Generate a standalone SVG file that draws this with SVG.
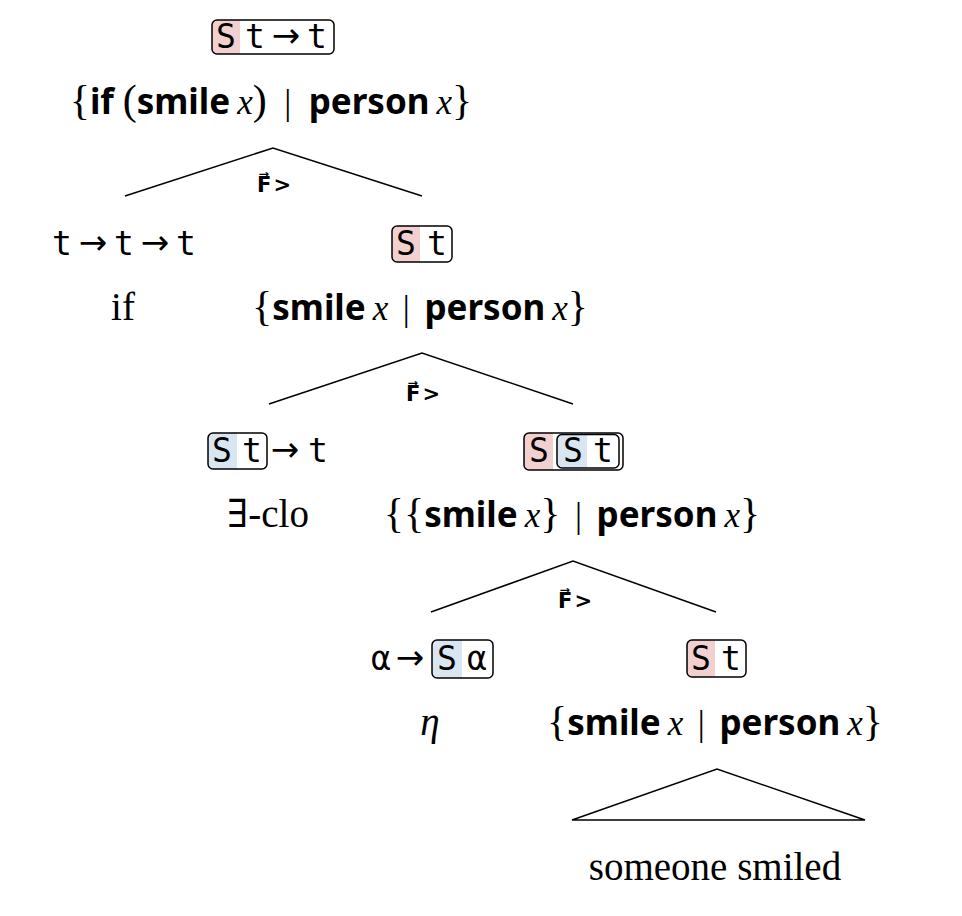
<svg xmlns="http://www.w3.org/2000/svg" width="962" height="916" viewBox="0 0 962 916">
<style>
.m{font-family:"Liberation Serif",serif;font-size:35px;fill:#000}
.br{font-size:42px}
.b{font-family:"Noto Sans","Open Sans",sans-serif;font-weight:700}
.i{font-style:italic}
.ty{font-family:"DejaVu Sans Mono",monospace;font-size:33px;text-anchor:middle;fill:#000}
.ar{font-family:"DejaVu Sans",sans-serif;font-size:34px;text-anchor:middle;fill:#000}
.rm{font-family:"Liberation Serif",serif;font-size:39px;text-anchor:middle;fill:#000}
.ex{font-family:"DejaVu Serif",serif}
.lab{font-family:"DejaVu Sans",sans-serif;font-weight:700;font-size:21px;fill:#000}
.box{fill:none;stroke:#000;stroke-width:1.5}
.pink{fill:#f3d0d0}
.blue{fill:#d9e5f0}
.edge{fill:none;stroke:#000;stroke-width:1.5}
</style>
<g id="connectors">
<polyline class="edge" points="125,196 273,148 422,196"/>
<text class="lab" x="257" y="192">F&#x20D7;&#8202;&gt;</text>
<polyline class="edge" points="269,404 422,353 573,404"/>
<text class="lab" x="406" y="401">F&#x20D7;&#8202;&gt;</text>
<polyline class="edge" points="431,612 573,561 716,612"/>
<text class="lab" x="558" y="608">F&#x20D7;&#8202;&gt;</text>
<polygon class="edge" points="572,820 717,769 865,820"/>
</g>
<g id="n0">
<path class="pink" d="M217,20 H240 V54 H217 A5,5 0 0 1 212,49 V25 A5,5 0 0 1 217,20 Z"/>
<rect class="box" x="212" y="20" width="122" height="34" rx="5"/>
<text class="ty" x="226" y="48">S</text><text class="ty" x="255" y="48">t</text><text class="ar" x="286" y="47">→</text><text class="ty" x="317" y="48">t</text>
<text class="m" x="271" y="114" text-anchor="middle"><tspan class="br">{</tspan><tspan class="b">if</tspan>&#160;<tspan class="br">(</tspan><tspan class="b">smile</tspan><tspan class="i">&#8201;x</tspan><tspan class="br">)</tspan>&#160;&#160;|&#160;&#160;<tspan class="b">person</tspan><tspan class="i">&#8201;x</tspan><tspan class="br">}</tspan></text>
</g>
<g id="n1">
<text class="ty" x="62" y="255">t</text><text class="ar" x="93" y="254">→</text><text class="ty" x="124" y="255">t</text><text class="ar" x="155" y="254">→</text><text class="ty" x="186" y="255">t</text>
<text class="rm" x="123" y="320">if</text>
</g>
<g id="n2">
<path class="pink" d="M397,226 H420 V262 H397 A5,5 0 0 1 392,257 V231 A5,5 0 0 1 397,226 Z"/>
<rect class="box" x="392" y="226" width="60" height="36" rx="5"/>
<text class="ty" x="406" y="255">S</text><text class="ty" x="437" y="255">t</text>
<text class="m" x="420" y="320" text-anchor="middle"><tspan class="br">{</tspan><tspan class="b">smile</tspan><tspan class="i">&#8201;x</tspan>&#160;&#8198;|&#8198;&#160;<tspan class="b">person</tspan><tspan class="i">&#8201;x</tspan><tspan class="br">}</tspan></text>
</g>
<g id="n3">
<path class="blue" d="M213,433 H237 V469 H213 A5,5 0 0 1 208,464 V438 A5,5 0 0 1 213,433 Z"/>
<rect class="box" x="208" y="433" width="59" height="36" rx="5"/>
<text class="ty" x="222" y="462">S</text><text class="ty" x="252" y="462">t</text><text class="ar" x="285" y="461">→</text><text class="ty" x="318" y="462">t</text>
<text class="rm" x="268" y="527"><tspan class="ex">∃</tspan>-clo</text>
</g>
<g id="n4">
<path class="pink" d="M529,433 H553 V470 H529 A5,5 0 0 1 524,465 V438 A5,5 0 0 1 529,433 Z"/>
<rect class="box" x="524" y="433" width="99" height="37" rx="5"/>
<path class="blue" d="M562,434.5 H587 V468 H562 A5,5 0 0 1 557,463 V439.5 A5,5 0 0 1 562,434.5 Z"/>
<rect class="box" x="557" y="434.5" width="62" height="33.5" rx="5"/>
<text class="ty" x="539" y="462">S</text><text class="ty" x="573" y="462">S</text><text class="ty" x="603" y="462">t</text>
<text class="m" x="572" y="527" text-anchor="middle"><tspan class="br">{{</tspan><tspan class="b">smile</tspan><tspan class="i">&#8201;x</tspan><tspan class="br">}</tspan>&#160;&#8198;|&#8198;&#160;<tspan class="b">person</tspan><tspan class="i">&#8201;x</tspan><tspan class="br">}</tspan></text>
</g>
<g id="n5">
<text class="ty" x="381" y="670">α</text><text class="ar" x="410" y="669">→</text>
<path class="blue" d="M437,640 H462 V678 H437 A5,5 0 0 1 432,673 V645 A5,5 0 0 1 437,640 Z"/>
<rect class="box" x="432" y="640" width="61" height="38" rx="5"/>
<text class="ty" x="447" y="670">S</text><text class="ty" x="477" y="670">α</text>
<text class="rm i" x="430" y="735">η</text>
</g>
<g id="n6">
<path class="pink" d="M692,640 H715 V677 H692 A5,5 0 0 1 687,672 V645 A5,5 0 0 1 692,640 Z"/>
<rect class="box" x="687" y="640" width="59" height="37" rx="5"/>
<text class="ty" x="701" y="670">S</text><text class="ty" x="731" y="670">t</text>
<text class="m" x="715" y="735" text-anchor="middle"><tspan class="br">{</tspan><tspan class="b">smile</tspan><tspan class="i">&#8201;x</tspan>&#160;&#8198;|&#8198;&#160;<tspan class="b">person</tspan><tspan class="i">&#8201;x</tspan><tspan class="br">}</tspan></text>
</g>
<g id="n7">
<text class="rm" x="715" y="880">someone smiled</text>
</g>
</svg>
